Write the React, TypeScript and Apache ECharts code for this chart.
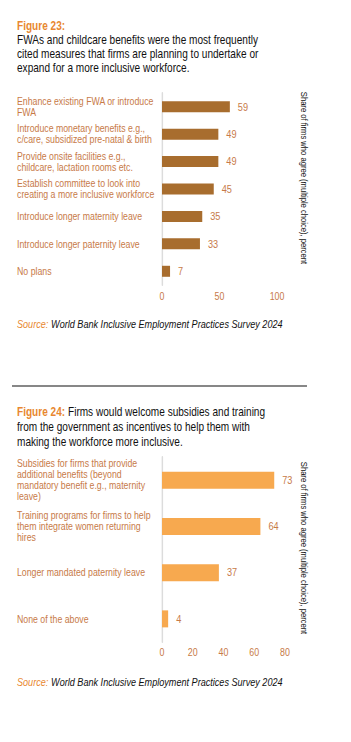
import React, { useEffect, useRef } from "react";
import * as echarts from "echarts";

const cats1 = [
  "Enhance existing FWA or introduce\nFWA",
  "Introduce monetary benefits e.g.,\nc/care, subsidized pre-natal & birth",
  "Provide onsite facilities e.g.,\nchildcare, lactation rooms etc.",
  "Establish committee to look into\ncreating a more inclusive workforce",
  "Introduce longer maternity leave",
  "Introduce longer paternity leave",
  "No plans",
];
const vals1 = [59, 49, 49, 45, 35, 33, 7];
const ticks1 = { min: 0, max: 100, interval: 50 };

const cats2 = [
  "Subsidies for firms that provide\nadditional benefits (beyond\nmandatory benefit e.g., maternity\nleave)",
  "Training programs for firms to help\nthem integrate women returning\nhires",
  "Longer mandated paternity leave",
  "None of the above",
];
const vals2 = [73, 64, 37, 4];
const ticks2 = { min: 0, max: 80, interval: 20 };

const title1 = [
  "FWAs and childcare benefits were the most frequently",
  "cited measures that firms are planning to undertake or",
  "expand for a more inclusive workforce.",
];
const title2 = [
  "Firms would welcome subsidies and training",
  "from the government as incentives to help them with",
  "making the workforce more inclusive.",
];
const AXIS_NAME = "Share of firms who agree (multiple choice), percent";
const SOURCE = "World Bank Inclusive Employment Practices Survey 2024";

// condensed look: render with Arial-metric font and squeeze horizontally
const S = 0.82;
const W = 351 / S;
const X = (px: number) => px / S;

const FONT = "'Liberation Sans', Arial, sans-serif";
const LABEL = "#c77a48";
const ORANGE = "#e8872f";
const BROWN = "#a86d2e";
const LIGHT = "#f7a94f";

export default function App() {
  const ref = useRef<HTMLDivElement>(null);
  useEffect(() => {
    const chart = echarts.init(ref.current!, null, { renderer: "svg" });
    const yAxisBase = (data: string[], idx: number) => ({
      type: "category" as const,
      gridIndex: idx,
      data,
      inverse: true,
      axisLine: { show: true, lineStyle: { color: "#dcdcdc", width: 1.8 } },
      axisTick: { show: false },
      axisLabel: {
        align: "left" as const,
        margin: X(162 - 17),
        color: LABEL,
        fontFamily: FONT,
        fontSize: 10.7,
        lineHeight: 11,
      },
    });
    const xAxisBase = (t: any, idx: number, margin: number) => ({
      type: "value" as const,
      gridIndex: idx,
      min: t.min,
      max: t.max,
      interval: t.interval,
      splitLine: { show: false },
      axisLine: { show: false },
      axisTick: { show: false },
      axisLabel: { color: LABEL, fontFamily: FONT, fontSize: 10.8, margin },
    });
    const textLine = (y: number, text: string) => ({
      type: "text",
      x: X(17),
      y,
      style: { text, fill: "#111", fontFamily: FONT, fontSize: 12.3, verticalAlign: "middle" },
    });
    const titleBlock = (y: number, fig: string, lines: string[], inline: boolean) => {
      const els: any[] = [];
      if (inline) {
        els.push({
          type: "text",
          x: X(17),
          y,
          style: {
            verticalAlign: "middle",
            rich: {
              o: { fill: ORANGE, fontWeight: "bold", fontFamily: FONT, fontSize: 12.3 },
              b: { fill: "#111", fontFamily: FONT, fontSize: 12.3 },
            },
            text: `{o|${fig}}{b| ${lines[0]}}`,
          } as any,
        });
        lines.slice(1).forEach((l, i) => els.push(textLine(y + (i + 1) * 14.6, l)));
      } else {
        els.push({
          type: "text",
          x: X(17),
          y: y + 0.5,
          style: { text: fig, fill: ORANGE, fontWeight: "bold", fontFamily: FONT, fontSize: 12.3, verticalAlign: "middle" },
        });
        lines.forEach((l, i) => els.push(textLine(y + 1 + (i + 1) * 14, l)));
      }
      return els;
    };
    const source = (y: number) => ({
      type: "text",
      x: X(17),
      y,
      style: {
        verticalAlign: "middle",
        rich: {
          s: { fill: ORANGE, fontStyle: "italic", fontFamily: FONT, fontSize: 11.1 },
          t: { fill: "#111", fontStyle: "italic", fontFamily: FONT, fontSize: 11.1 },
        },
        text: `{s|Source:} {t|${SOURCE}}`,
      } as any,
    });
    const axisName = (y: number) => ({
      type: "text",
      x: X(304),
      y,
      rotation: -Math.PI / 2,
      scaleX: S,
      scaleY: 1 / S,
      style: {
        text: AXIS_NAME,
        fill: "#111",
        fontFamily: FONT,
        fontSize: 9.3,
        align: "center",
        verticalAlign: "middle",
      },
    });
    chart.setOption({
      animation: false,
      grid: [
        { left: X(162), top: 93, width: X(115), height: 192 },
        { left: X(162), top: 457, width: X(123), height: 185 },
      ],
      xAxis: [xAxisBase(ticks1, 0, 6), xAxisBase(ticks2, 1, 5)],
      yAxis: [yAxisBase(cats1, 0), yAxisBase(cats2, 1)],
      series: [
        {
          type: "bar",
          xAxisIndex: 0,
          yAxisIndex: 0,
          data: vals1,
          barWidth: 11,
          itemStyle: { color: BROWN },
          label: { show: true, position: "right", distance: X(8), color: LABEL, fontFamily: FONT, fontSize: 11.2 },
        },
        {
          type: "bar",
          xAxisIndex: 1,
          yAxisIndex: 1,
          data: vals2,
          barWidth: 17,
          itemStyle: { color: LIGHT },
          label: { show: true, position: "right", distance: X(8), color: LABEL, fontFamily: FONT, fontSize: 11.2 },
        },
      ],
      graphic: [
        ...titleBlock(25, "Figure 23:", title1, false),
        ...titleBlock(412, "Figure 24:", title2, true),
        source(324),
        source(682),
        axisName(178),
        axisName(548),
        {
          type: "line",
          shape: { x1: X(12), y1: 386, x2: X(307), y2: 386 },
          style: { stroke: "#111", lineWidth: 1.2 },
        },
      ],
    });
    return () => chart.dispose();
  }, []);
  return (
    <div
      style={{ position: "fixed", left: 0, top: 0, width: 351, height: 742, overflow: "hidden", background: "#fff" }}
    >
      <div
        ref={ref}
        style={{ width: W, height: 742, transform: `scaleX(${S})`, transformOrigin: "0 0" }}
      />
    </div>
  );
}
